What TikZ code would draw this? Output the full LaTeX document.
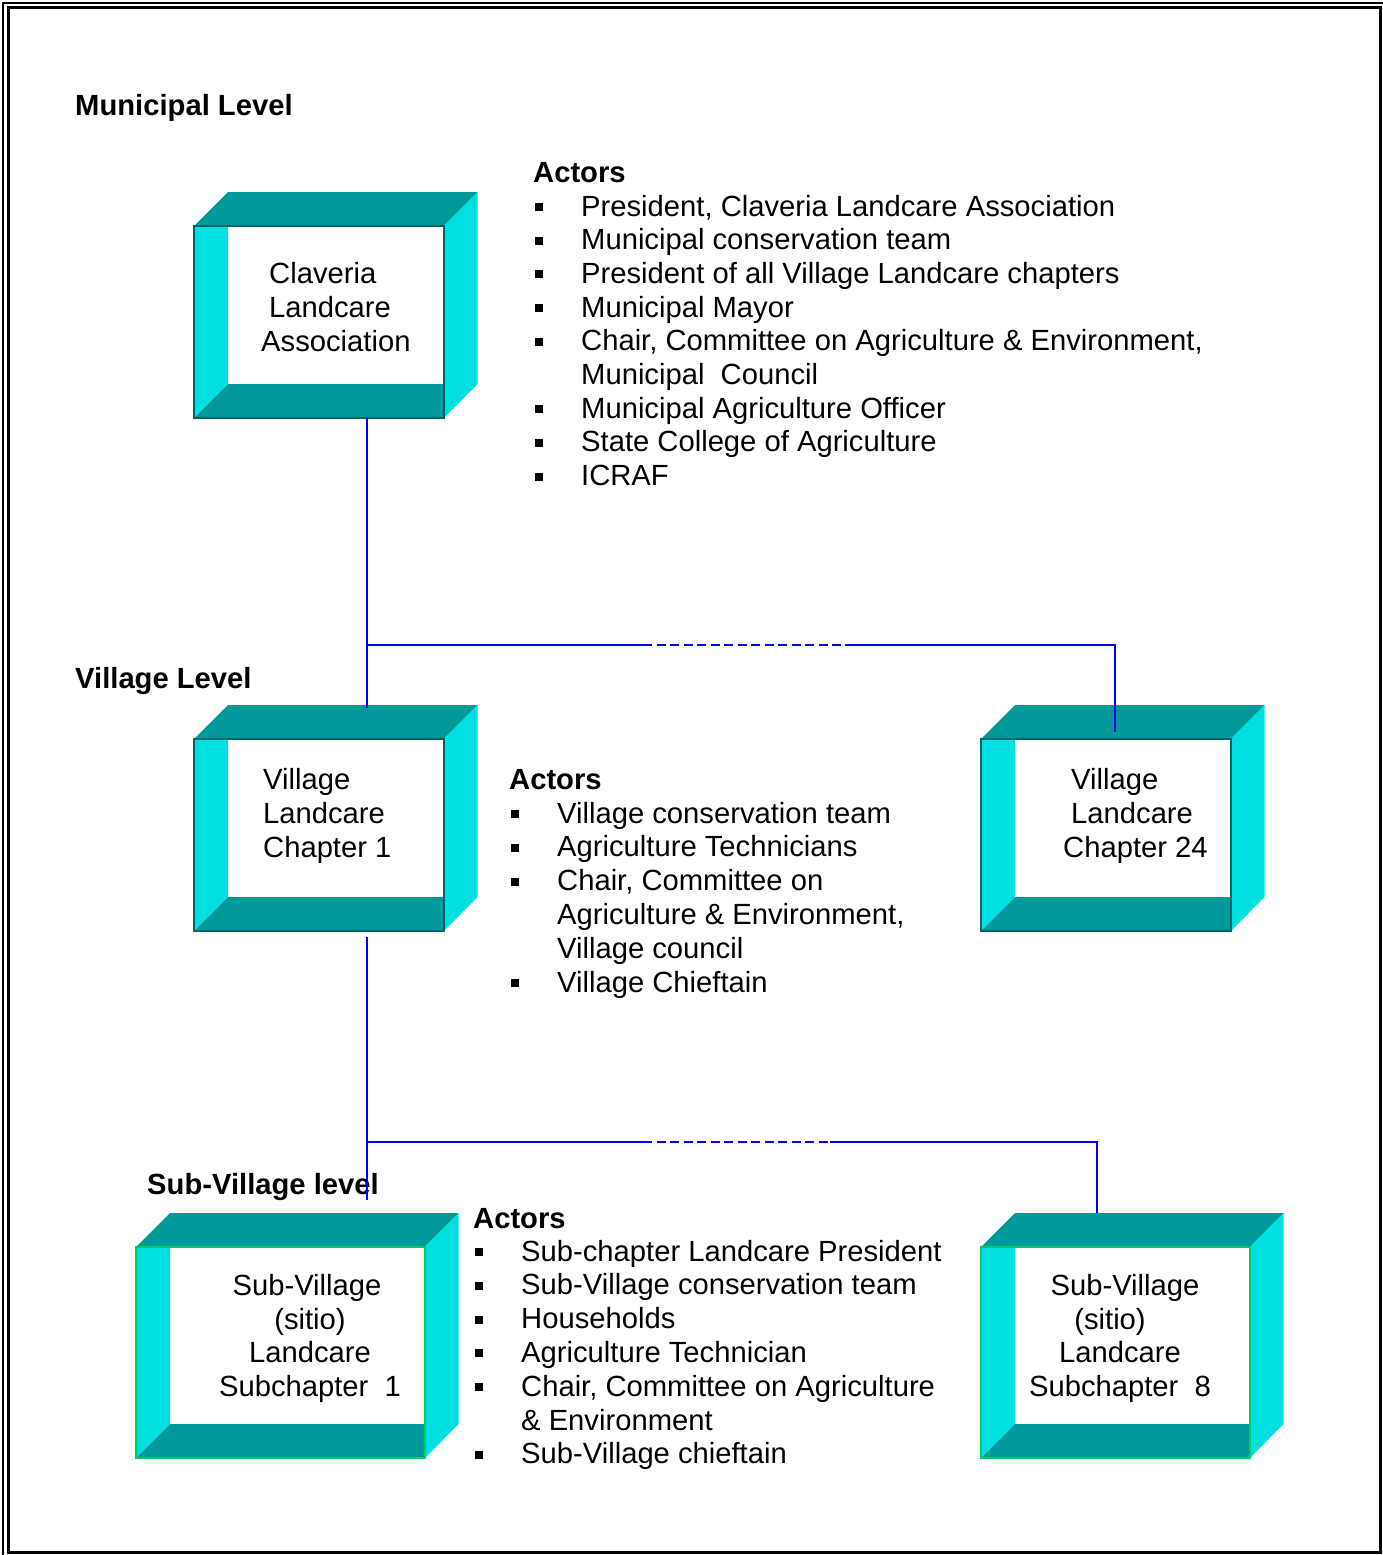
\documentclass[tikz,border=0pt]{standalone}
\usepackage{fontspec}
\setmainfont{Liberation Sans}
\usepackage{xcolor}
\usepackage{tikz}
\usetikzlibrary{calc}
\definecolor{lcteal}{RGB}{0,153,153}
\definecolor{lccyan}{RGB}{0,224,224}
\definecolor{lcedge}{RGB}{0,102,102}
\definecolor{lcgreen}{RGB}{0,204,102}
\definecolor{lcblue}{RGB}{0,0,255}
\tikzset{
	care box/.style={rectangle,draw,fill=white,line width=2pt,inner sep=0pt,outer sep=0pt},
	box text/.style={font=\fontsize{29.2}{33.7}\selectfont,inner sep=0pt},
	level text/.style={font=\fontsize{29.2}{33.7}\selectfont\bfseries,inner sep=0pt,anchor=base west},
	item text/.style={font=\fontsize{29.2}{33.7}\selectfont,inner sep=0pt,anchor=base west},
	bullet/.style={rectangle,fill=black,inner sep=0pt,minimum size=8pt},
	link/.style={draw=lcblue,line width=2pt},
	dash link/.style={link,dash pattern=on 9pt off 4.5pt}
}

\begin{document}
\begin{tikzpicture}[x=1pt,y=-1pt]
	\useasboundingbox (0,0) rectangle (1383,1555);
	% double frame
	\draw[line width=2pt] (3,3) rectangle (1392,1562);
	\draw[line width=3pt] (8,8) rectangle (1380,1552);

	% landcare boxes (front faces)
	\node [care box,draw=lcedge,minimum width=250pt,minimum height=192pt] (clav) at (319,322) {};
	\node [care box,draw=lcedge,minimum width=250pt,minimum height=192pt] (vc1) at (319,835) {};
	\node [care box,draw=lcedge,minimum width=250pt,minimum height=192pt] (vc24) at (1106,835) {};
	\node [care box,draw=lcgreen,minimum width=289pt,minimum height=211pt] (sv1) at (280.5,1352.5) {};
	\node [care box,draw=lcgreen,minimum width=269pt,minimum height=211pt] (sv8) at (1115.5,1352.5) {};

	% 3d faces
	\foreach \b/\c in {clav/lcedge,vc1/lcedge,vc24/lcedge,sv1/lcgreen,sv8/lcgreen}{
		\fill[lcteal] (\b.north west) -- ++(34,-34) -- ([shift={(33.5,-34)}]\b.north east) -- (\b.north east) -- cycle;
		\fill[lccyan] (\b.north east) -- ++(33.5,-34) -- ([shift={(33.5,-34)}]\b.south east) -- (\b.south east) -- cycle;
		\fill[lccyan] (\b.north west) -- ++(34,0) -- ([shift={(34,-34)}]\b.south west) -- (\b.south west) -- cycle;
		\fill[lcteal] (\b.south west) -- ++(34,-34) -- ([shift={(0,-34)}]\b.south east) -- (\b.south east) -- cycle;
		\draw[line width=2pt,\c] (\b.north west) rectangle (\b.south east);
	}

	% box labels
	\node [box text,align=left,anchor=west] (clav-t) at (261,307) {\hspace*{8pt}Claveria\\\hspace*{8pt}Landcare\\Association};
	\node [box text,align=left,anchor=west] (vc1-t) at (263,816) {Village\\Landcare\\Chapter 1};
	\node [box text,align=left,anchor=west] (vc24-t) at (1063,816) {\hspace*{8pt}Village\\\hspace*{8pt}Landcare\\Chapter 24};
	\node [box text,align=center] (sv1-t) at (310,1338.5) {Sub-Village\hspace*{6pt}\mbox{}\\(sitio)\\Landcare\\Subchapter\ \ 1};
	\node [box text,align=center] (sv8-t) at (1120,1338.5) {\hspace*{10pt}Sub-Village\\(sitio)\hspace*{20pt}\mbox{}\\Landcare\\Subchapter\ \ 8};

	% levels
	\node [level text] (lvl-mun) at (75,115) {Municipal Level};
	\node [level text] (lvl-vil) at (75,688) {Village Level};
	\node [level text] (lvl-sub) at (147,1194) {Sub-Village level};

	% actors, municipal
	\node [level text] (act-mun) at (533,182) {Actors};
	\foreach \t/\k [count=\i from 0] in {{President, Claveria Landcare Association}/1,
		{Municipal conservation team}/1,{President of all Village Landcare chapters}/1,
		{Municipal Mayor}/1,{Chair, Committee on Agriculture \& Environment,}/1,
		{Municipal\ \ Council}/0,{Municipal Agriculture Officer}/1,
		{State College of Agriculture}/1,{ICRAF}/1}{
		\node [item text] (mun-\i) at (581,{216+\i*33.7}) {\t};
		\ifnum\k=1 \node [bullet] (mun-b\i) at (539,{207+\i*33.7}) {}; \fi
	}

	% actors, village
	\node [level text] (act-vil) at (509,789) {Actors};
	\foreach \t/\k [count=\i from 0] in {{Village conservation team}/1,
		{Agriculture Technicians}/1,{Chair, Committee on}/1,
		{Agriculture \& Environment,}/0,{Village council}/0,{Village Chieftain}/1}{
		\node [item text] (vil-\i) at (557,{823+\i*33.8}) {\t};
		\ifnum\k=1 \node [bullet] (vil-b\i) at (515,{814+\i*33.8}) {}; \fi
	}

	% actors, sub-village
	\node [level text] (act-sub) at (473,1228) {Actors};
	\foreach \t/\k [count=\i from 0] in {{Sub-chapter Landcare President}/1,
		{Sub-Village conservation team}/1,{Households}/1,{Agriculture Technician}/1,
		{Chair, Committee on Agriculture}/1,{\& Environment}/0,{Sub-Village chieftain}/1}{
		\node [item text] (sub-\i) at (521,{1261+\i*33.8}) {\t};
		\ifnum\k=1 \node [bullet] (sub-b\i) at (479,{1252+\i*33.8}) {}; \fi
	}

	% connectors
	\coordinate (m1) at (367,645);
	\coordinate (d1) at (643,645);
	\coordinate (d2) at (845,645);
	\coordinate (m2) at (1115,645);
	\coordinate (s1) at (367,1142);
	\coordinate (d3) at (643,1142);
	\coordinate (d4) at (830,1142);
	\coordinate (s2) at (1097,1142);
	\draw[link] (m1 |- clav.south) -- ($(m1 |- vc1.north)+(0,-31)$);
	\draw[link] (m1) -- (d1);
	\draw[dash link] (d1) -- (d2);
	\draw[link] (d2) -- (m2) -- ($(m2 |- vc24.north)+(0,-7)$);
	\draw[link] ($(s1 |- vc1.south)+(0,6)$) -- ($(s1 |- sv1.north)+(0,-47)$);
	\draw[link] (s1) -- (d3);
	\draw[dash link] (d3) -- (d4);
	\draw[link] (d4) -- (s2) -- ($(s2 |- sv8.north)+(0,-34)$);
\end{tikzpicture}
\end{document}
